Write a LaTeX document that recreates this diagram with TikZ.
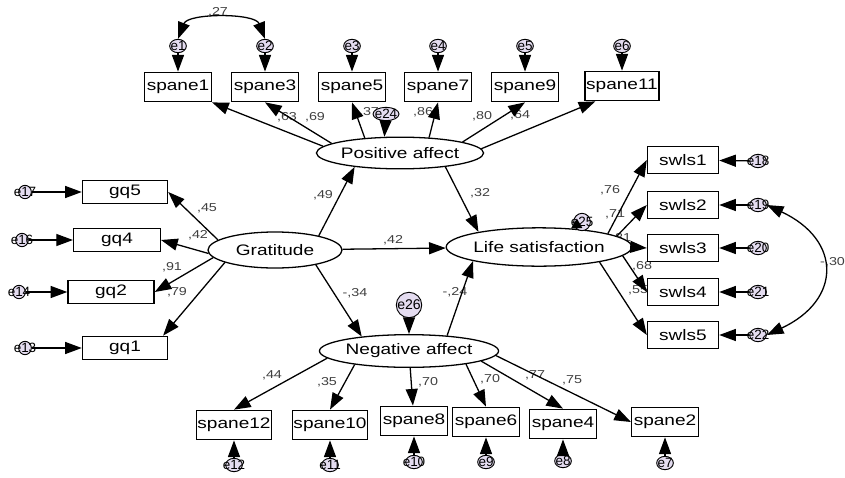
\documentclass[tikz,border=0pt]{standalone}
\usepackage{fontspec}
\setmainfont{Liberation Sans}[FakeStretch=1.25]
\newfontfamily\errfont{Liberation Sans}
\usetikzlibrary{arrows.meta,shapes.geometric}
\definecolor{errfill}{HTML}{E4DCF0}
\definecolor{lblgray}{HTML}{404040}

\begin{document}
\begin{tikzpicture}[x=0.03cm, y=-0.03cm,
  lat/.style={draw, ellipse, line width=1.1pt, inner sep=0pt, fill=white, font=\fontsize{13}{14}\selectfont},
  obs/.style={draw, line width=1.2pt, inner sep=1pt, fill=white, minimum width=2cm, minimum height=0.88cm, font=\fontsize{13}{14}\selectfont},
  err/.style={draw, ellipse, line width=0.8pt, fill=errfill, inner sep=0pt, minimum width=0.5cm, minimum height=0.4cm,
    label={[font=\errfont\fontsize{11.5}{11.5}\selectfont, inner sep=0pt]center:#1}},
  lbl/.style={text=lblgray, inner sep=0pt, font=\fontsize{9.8}{10}\selectfont},
  arr/.style={-{Triangle[length=0.5cm,width=0.36cm]}, line width=1.1pt},
  cov/.style={{Triangle[length=0.5cm,width=0.36cm]}-{Triangle[length=0.5cm,width=0.36cm]}, line width=1.1pt}]
\useasboundingbox (0,0) rectangle (845,477);

\node[lbl] (l27) at (218,12) {,27};
\node[lbl] (l63) at (287,117) {,63};
\node[lbl] (l69) at (315,117) {,69};
\node[lbl] (l37) at (369,112) {,37};
\node[lbl] (l86) at (423,112) {,86};
\node[lbl] (l80) at (482,116) {,80};
\node[lbl] (l64) at (520,115) {,64};
\node[lbl] (l49) at (323,195) {,49};
\node[lbl] (l32) at (480,193) {,32};
\node[lbl] (l42a) at (393,240) {,42};
\node[lbl] (l34) at (355,293) {-,34};
\node[lbl] (l24) at (455,292) {-,24};
\node[lbl] (l45) at (207,208) {,45};
\node[lbl] (l42b) at (198,235) {,42};
\node[lbl] (l91) at (172,267) {,91};
\node[lbl] (l79) at (177,292) {,79};
\node[lbl] (l76) at (610,190) {,76};
\node[lbl] (l71) at (615,214) {,71};
\node[lbl] (l81) at (621,238) {,81};
\node[lbl] (l68) at (642,266) {,68};
\node[lbl] (l55) at (638,290) {,55};
\node[lbl] (l44) at (272,375) {,44};
\node[lbl] (l35) at (327,382) {,35};
\node[lbl] (l70a) at (428,382) {,70};
\node[lbl] (l70b) at (490,379) {,70};
\node[lbl] (l77) at (535,375) {,77};
\node[lbl] (l75) at (572,380) {,75};
\node[lbl, anchor=west] (l30) at (820,262) {-,30};

\node[lat, minimum width=4.05cm, minimum height=0.95cm] (pa) at (400,153) {Positive affect};
\node[lat, minimum width=4.02cm, minimum height=1.08cm] (gr) at (275,250) {Gratitude};
\node[lat, minimum width=4.56cm, minimum height=1.15cm] (ls) at (539,247) {Life satisfaction};
\node[lat, minimum width=4.6cm, minimum height=0.98cm] (na) at (409,351) {Negative affect};

\node[obs] (s1) at (178,87) {spane1};
\node[obs] (s3) at (265,87) {spane3};
\node[obs] (s5) at (352,87) {spane5};
\node[obs] (s7) at (438,87) {spane7};
\node[obs] (s9) at (525,87) {spane9};
\node[obs] (s11) at (622,86) {spane11};
\node[obs] (s12) at (234,425) {spane12};
\node[obs] (s10) at (330,425) {spane10};
\node[obs] (s8) at (414,421) {spane8};
\node[obs] (s6) at (486,422) {spane6};
\node[obs] (s4) at (563,424) {spane4};
\node[obs] (s2) at (665,422) {spane2};
\node[obs, minimum width=2.55cm, minimum height=0.7cm] (gq5) at (125,192) {gq5};
\node[obs, minimum width=2.6cm, minimum height=0.7cm] (gq4) at (117,240) {gq4};
\node[obs, minimum width=2.58cm, minimum height=0.7cm] (gq2) at (111,292) {gq2};
\node[obs, minimum width=2.55cm, minimum height=0.7cm] (gq1) at (125,348) {gq1};
\node[obs, minimum width=2.13cm, minimum height=0.8cm] (sw1) at (683,160) {swls1};
\node[obs, minimum width=2.13cm, minimum height=0.8cm] (sw2) at (683,205) {swls2};
\node[obs, minimum width=2.13cm, minimum height=0.8cm] (sw3) at (683,248) {swls3};
\node[obs, minimum width=2.13cm, minimum height=0.8cm] (sw4) at (683,292) {swls4};
\node[obs, minimum width=2.13cm, minimum height=0.8cm] (sw5) at (683,335) {swls5};

\node[err=e1] (e1) at (178,46) {};
\node[err=e2] (e2) at (265,46) {};
\node[err=e3] (e3) at (352,46) {};
\node[err=e4] (e4) at (438,46) {};
\node[err=e5] (e5) at (525,46) {};
\node[err=e6] (e6) at (622,46) {};
\node[err=e12] (e12) at (234,465) {};
\node[err=e11] (e11) at (330,465) {};
\node[err=e10] (e10) at (414,462) {};
\node[err=e9] (e9) at (486,462) {};
\node[err=e8] (e8) at (563,461) {};
\node[err=e7] (e7) at (665,463) {};
\node[err=e17, minimum width=0.38cm] (e17) at (25,192) {};
\node[err=e16, minimum width=0.38cm] (e16) at (22,240) {};
\node[err=e14, minimum width=0.38cm] (e14) at (19,292) {};
\node[err=e13, minimum width=0.38cm] (e13) at (25,348) {};
\node[err=e18] (e18) at (758,161) {};
\node[err=e19] (e19) at (758,205) {};
\node[err=e20] (e20) at (758,248) {};
\node[err=e21] (e21) at (758,292) {};
\node[err=e22] (e22) at (758,335) {};
\node[err=e24, minimum width=0.78cm] (e24) at (386,114) {};
\node[err=e25, minimum width=0.5cm, minimum height=0.52cm] (e25) at (582,222) {};
\node[draw, circle, line width=0.8pt, fill=errfill, inner sep=0pt, minimum size=0.68cm,
  font=\errfont\fontsize{12}{12}\selectfont] (e26) at (409,305) {e26};

\draw[arr] (pa.175) -- (s1.south east);
\draw[arr] (pa.172) -- (s3.south);
\draw[arr] (pa.157) -- (s5.south);
\draw[arr] (pa.28) -- (s7.south);
\draw[arr] (pa.10) -- (s9.south);
\draw[arr] (pa.3) -- (s11.210);
\draw[arr] (e24) -- (pa.134);

\draw[arr] (gr.18) -- (pa.197);
\draw[arr] (gr) -- (ls);
\draw[arr] (gr.-20) -- (na.163);
\draw[arr] (pa.-17) -- (ls.166);
\draw[arr] (na.22) -- (ls.192);
\draw[arr] (e26) -- (na);
\draw[-{Triangle[length=0.3cm,width=0.32cm]}, line width=1.1pt] (e25) -- (ls);

\draw[arr] (gr.170) -- (gq5.east);
\draw[arr] (gr.183) -- (gq4.east);
\draw[arr] (gr.187) -- (gq2.east);
\draw[arr] (gr.194) -- (gq1.18);

\draw[arr] (ls.11) -- (sw1.west);
\draw[arr] (ls.8) -- (sw2.west);
\draw[arr] (ls.east) -- (sw3.west);
\draw[arr] (ls.-6) -- (sw4.west);
\draw[arr] (ls.-14) -- (sw5.west);

\draw[arr] (na.185) -- (s12.north);
\draw[arr] (na.194) -- (s10.north);
\draw[arr] (na) -- (s8);
\draw[arr] (na.-13) -- (s6.north);
\draw[arr] (na.-8) -- (s4.north);
\draw[arr] (na.-3) -- (s2.west);

\draw[arr] (e1) -- (s1);
\draw[arr] (e2) -- (s3);
\draw[arr] (e3) -- (s5);
\draw[arr] (e4) -- (s7);
\draw[arr] (e5) -- (s9);
\draw[arr] (e6) -- (s11);
\draw[arr] (e12) -- (s12);
\draw[arr] (e11) -- (s10);
\draw[arr] (e10) -- (s8);
\draw[arr] (e9) -- (s6);
\draw[arr] (e8) -- (s4);
\draw[arr] (e7) -- (s2);
\draw[arr] (e17) -- (gq5);
\draw[arr] (e16) -- (gq4);
\draw[arr] (e14) -- (gq2);
\draw[arr] (e13) -- (gq1);
\draw[arr] (e18) -- (sw1);
\draw[arr] (e19) -- (sw2);
\draw[arr] (e20) -- (sw3);
\draw[arr] (e21) -- (sw4);
\draw[arr] (e22) -- (sw5);

\draw[cov] (e1.north) .. controls +(10,-26) and +(-10,-26) .. (e2.north);
\draw[cov] (e19.east) .. controls +(75,35) and +(75,-35) .. (e22.east);
\end{tikzpicture}
\end{document}
